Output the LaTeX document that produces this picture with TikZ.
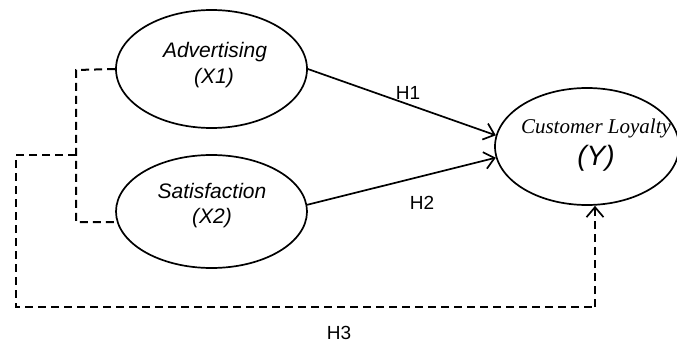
\documentclass[tikz,border=0pt]{standalone}
\usepackage{fontspec}
\setmainfont{Liberation Sans}
\newfontfamily\timesfont{Liberation Serif}
\usetikzlibrary{shapes.geometric,arrows.meta}
\tikzset{
  latent/.style={draw, ellipse, line width=1.7pt, inner sep=0pt},
  lbl/.style={anchor=base, inner sep=0pt, font=\fontsize{21}{24}\selectfont\itshape},
  hyp/.style={anchor=base, inner sep=0pt, font=\fontsize{19}{22}\selectfont},
  barb/.style={-{Straight Barb[length=10pt,width=17pt,line width=1.7pt]}},
  path/.style={line width=1.7pt, barb},
  dpath/.style={line width=2pt, dash pattern=on 8pt off 5pt},
}
\begin{document}
\begin{tikzpicture}[x=1pt,y=-1pt]
\useasboundingbox (0,0) rectangle (677,342);
\node[latent, minimum width=191pt, minimum height=118pt] (adv) at (211.5,69) {};
\node[latent, minimum width=191pt, minimum height=113pt] (sat) at (211.5,211.5) {};
\node[latent, minimum width=184pt, minimum height=117pt] (cl) at (587,146.5) {};

\node[lbl] (advt) at (215,58) {Advertising};
\node[lbl] (advx) at (214,84) {(X1)};
\node[lbl] (satt) at (212,198) {Satisfaction};
\node[lbl] (satx) at (212,223) {(X2)};
\node[anchor=base, inner sep=0pt, font=\timesfont\fontsize{21}{24}\selectfont\itshape] (clt) at (596,134) {Customer Loyalty};
\node[anchor=base, inner sep=0pt, font=\fontsize{28}{32}\selectfont\itshape] (cly) at (596,165) {(Y)};

\draw[path] (adv.east) -- (cl.173);
\draw[path] (sat.4) -- (cl.187);
\node[hyp] (h1) at (408,100) {H1};
\node[hyp] (h2) at (422,209) {H2};
\node[hyp] (h3) at (339,339) {H3};

\coordinate (j1) at (76,70);
\coordinate (j2) at (76,222);
\coordinate (j3) at (76,155);
\coordinate (c1) at (16,155);
\coordinate (c2) at (16,307);
\coordinate (c3) at (595,307);
\draw[dpath] (adv.west) -- (j1) -- (j2) -- (sat.west |- j2);
\draw[dpath] (j3) -- (c1) -- (c2) -- (c3);
\draw[dpath, barb] (c3) -- (cl.south -| c3);
\end{tikzpicture}
\end{document}
